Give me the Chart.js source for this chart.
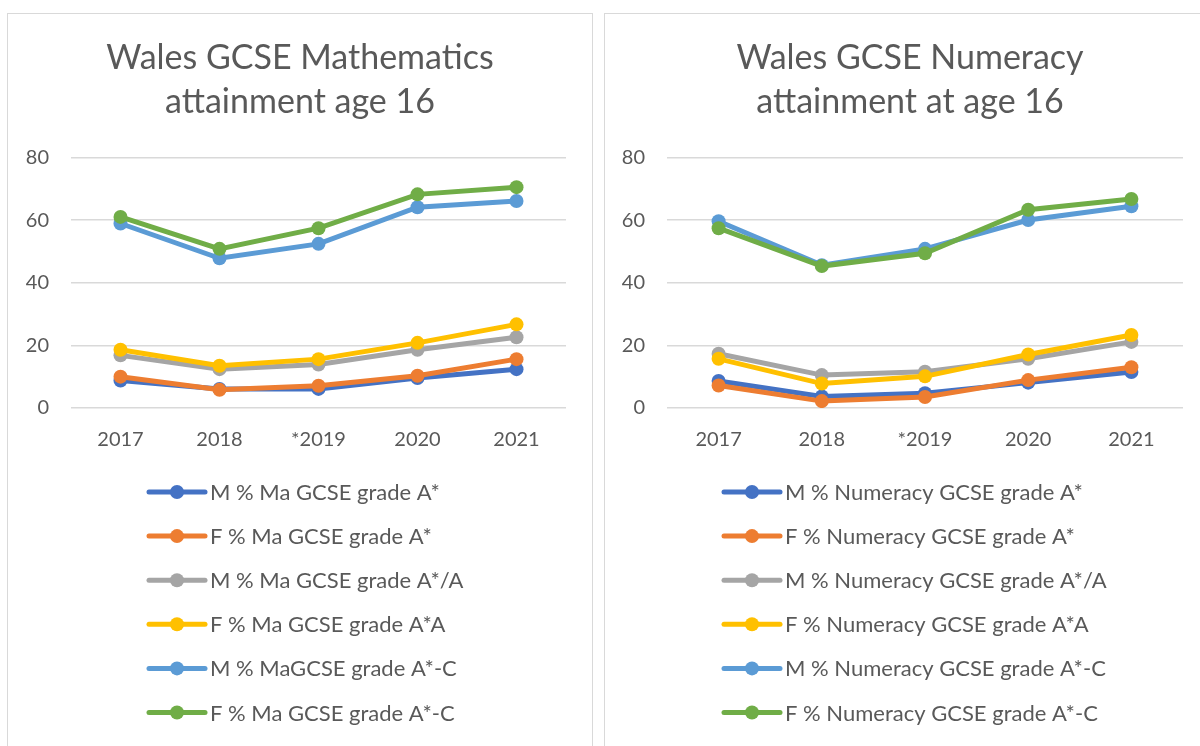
<!DOCTYPE html>
<html>
<head>
<meta charset="utf-8">
<script src="https://cdn.jsdelivr.net/npm/chart.js@4/dist/chart.umd.min.js"></script>
<style>
  body { margin: 0; background: #fff; overflow: hidden; }
  .panel { position: absolute; top: 13px; border: 1px solid #d9d9d9; background: #fff; }
  #left-panel { left: 7px; width: 584px; height: 740px; }
  #right-panel { left: 604px; width: 620px; height: 740px; }
  canvas { display: block; }
</style>
</head>
<body>
<div class="panel" id="left-panel"><canvas id="maths-chart" width="584" height="740"></canvas></div>
<div class="panel" id="right-panel"><canvas id="numeracy-chart" width="610" height="740"></canvas></div>
<script>
// categories
var years = ["2017", "2018", "*2019", "2020", "2021"];
var yTicks = [0, 20, 40, 60, 80];

// maths series (% of pupils)
var mathsLabels = [
  "M % Ma GCSE grade A*",
  "F % Ma GCSE grade A*",
  "M % Ma GCSE grade A*/A",
  "F % Ma GCSE grade A*A",
  "M % MaGCSE grade A*-C",
  "F % Ma GCSE grade A*-C"
];
var mathsMaleAStar = [8.8, 6.1, 6.1, 9.6, 12.4];
var mathsFemaleAStar = [10.0, 5.8, 7.1, 10.3, 15.6];
var mathsMaleAStarA = [16.8, 12.4, 13.9, 18.6, 22.6];
var mathsFemaleAStarA = [18.6, 13.5, 15.6, 20.8, 26.7];
var mathsMaleAC = [58.9, 47.8, 52.4, 64.1, 66.1];
var mathsFemaleAC = [61.0, 50.8, 57.4, 68.2, 70.5];

// numeracy series
var numeracyLabels = [
  "M % Numeracy GCSE grade A*",
  "F % Numeracy GCSE grade A*",
  "M % Numeracy GCSE grade A*/A",
  "F % Numeracy GCSE grade A*A",
  "M % Numeracy GCSE grade A*-C",
  "F % Numeracy GCSE grade A*-C"
];
var numMaleAStar = [8.6, 3.7, 4.7, 8.1, 11.5];
var numFemaleAStar = [7.2, 2.2, 3.5, 8.9, 13.0];
var numMaleAStarA = [17.3, 10.5, 11.6, 15.7, 21.1];
var numFemaleAStarA = [15.7, 7.8, 10.1, 17.1, 23.3];
var numMaleAC = [59.6, 45.6, 50.8, 60.0, 64.4];
var numFemaleAC = [57.4, 45.3, 49.4, 63.3, 66.7];

var colours = ["#4472C4", "#ED7D31", "#A5A5A5", "#FFC000", "#5B9BD5", "#70AD47"];

var textColour = "#595959";
var fontFamily = "Lato, 'Open Sans', sans-serif";

// legend drawn as a single column under the axis, like the Excel original
var columnLegend = {
  id: "columnLegend",
  afterDraw: function(chart) {
    var ctx = chart.ctx;
    var sets = chart.data.datasets;
    var opts = chart.options.plugins.columnLegend;
    ctx.save();
    ctx.font = "22px " + fontFamily;
    var widest = 0;
    sets.forEach(function(ds) { widest = Math.max(widest, ctx.measureText(ds.label).width); });
    var blockW = 61 + widest;
    var x0 = Math.round(opts.centre - blockW / 2);
    sets.forEach(function(ds, i) {
      var y = opts.top + i * 44.1;
      ctx.strokeStyle = ds.borderColor;
      ctx.lineWidth = 5;
      ctx.lineCap = "round";
      ctx.beginPath();
      ctx.moveTo(x0, y);
      ctx.lineTo(x0 + 56, y);
      ctx.stroke();
      ctx.fillStyle = ds.borderColor;
      ctx.beginPath();
      ctx.arc(x0 + 28, y, 7, 0, Math.PI * 2);
      ctx.fill();
      ctx.fillStyle = textColour;
      ctx.textBaseline = "middle";
      ctx.textAlign = "left";
      ctx.fillText(ds.label, x0 + 61, y + 1);
    });
    ctx.restore();
  }
};

function makeChart(id, title, labels, series, axisWidth, rightGap, legendCentre) {
  var datasets = series.map(function(values, i) {
    return {
      label: labels[i],
      data: values,
      borderColor: colours[i],
      backgroundColor: colours[i],
      borderWidth: 5,
      pointRadius: 7,
      pointBorderWidth: 0,
      pointHoverRadius: 7,
      order: series.length - i,
      tension: 0
    };
  });

  return new Chart(document.getElementById(id), {
    type: "line",
    data: { labels: years, datasets: datasets },
    plugins: [columnLegend],
    options: {
      responsive: false,
      animation: false,
      layout: { padding: 0 },
      plugins: {
        legend: { display: false },
        tooltip: { enabled: false },
        columnLegend: { top: 478, centre: legendCentre },
        title: {
          display: true,
          text: title,
          color: textColour,
          font: { family: fontFamily, size: 34, weight: "normal", lineHeight: 1.3 },
          padding: { top: 22, bottom: 33 }
        }
      },
      scales: {
        x: {
          offset: true,
          grid: { display: false, drawTicks: false },
          border: { display: false },
          ticks: { color: textColour, padding: 20, font: { family: fontFamily, size: 20 } },
          afterFit: function(scale) { scale.height = 346; }
        },
        y: {
          min: 0,
          max: 80,
          afterBuildTicks: function(scale) {
            scale.ticks = yTicks.map(function(v) { return { value: v }; });
          },
          grid: { color: "#d9d9d9", lineWidth: 1.5, drawTicks: false },
          border: { display: false },
          ticks: { color: textColour, padding: 22, font: { family: fontFamily, size: 20 } },
          afterFit: function(scale) { scale.width = axisWidth; }
        },
        // empty axis on the right, only to leave the gap Excel leaves there
        gap: {
          position: "right",
          grid: { display: false, drawTicks: false },
          border: { display: false },
          ticks: { display: false },
          afterFit: function(scale) { scale.width = rightGap; }
        }
      }
    }
  });
}

makeChart("maths-chart",
  ["Wales GCSE Mathematics", "attainment age 16"],
  mathsLabels,
  [mathsMaleAStar, mathsFemaleAStar, mathsMaleAStarA, mathsFemaleAStarA, mathsMaleAC, mathsFemaleAC],
  63, 26, 298);

makeChart("numeracy-chart",
  ["Wales GCSE Numeracy", "attainment at age 16"],
  numeracyLabels,
  [numMaleAStar, numFemaleAStar, numMaleAStarA, numFemaleAStarA, numMaleAC, numFemaleAC],
  62, 32, 310);
</script>
</body>
</html>
